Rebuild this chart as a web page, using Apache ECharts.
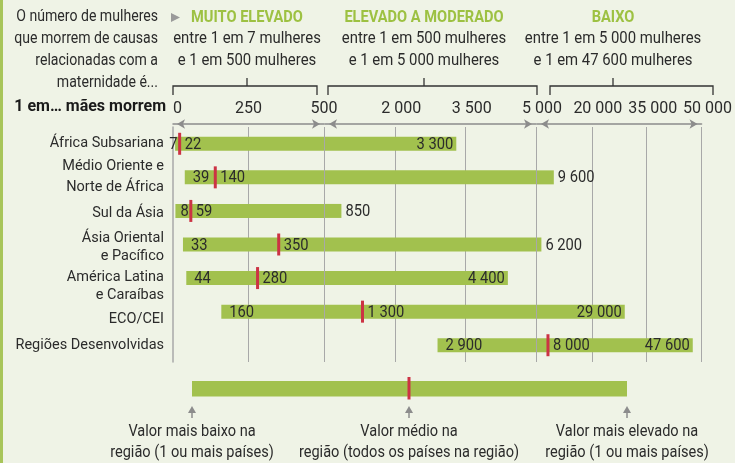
<!DOCTYPE html>
<html>
<head>
<meta charset="utf-8">
<script src="https://cdn.jsdelivr.net/npm/echarts@6/dist/echarts.min.js"></script>
<style>
  html, body { margin: 0; padding: 0; background: #eff3e6; }
  #grafico { width: 735px; height: 463px; }
</style>
</head>
<body>
<div id="grafico"></div>
<script>
// Dados (mortalidade materna: 1 em ... mães morrem)
var regioes = ['África Subsariana', 'Médio Oriente e\nNorte de África', 'Sul da Ásia',
  'Ásia Oriental\ne Pacífico', 'América Latina\ne Caraíbas', 'ECO/CEI', 'Regiões Desenvolvidas'];
var valorBaixo = [7, 39, 8, 33, 44, 160, 2900];
var valorMedio = [22, 140, 59, 350, 280, 1300, 8000];
var valorAlto = [3300, 9600, 850, 6200, 4400, 29000, 47600];

// os três troços do eixo: [min, max, intervalo]
var segmentos = [[0, 500, 250], [500, 5000, 1500], [5000, 50000, 15000]];
var titulos = ['MUITO ELEVADO', 'ELEVADO A MODERADO', 'BAIXO'];
var subtitulos = ['entre 1 em 7 mulheres\ne 1 em 500 mulheres',
  'entre 1 em 500 mulheres\ne 1 em 5 000 mulheres',
  'entre 1 em 5 000 mulheres\ne 1 em 47 600 mulheres'];

var fonte = "Roboto, 'Liberation Sans', sans-serif";
var verde = '#a2c14e';
var vermelho = '#cc3344';
var cinza = '#a8a8a8';
var texto = '#2b2b2b';

var grelhas = [
  { left: 173, width: 151, top: 127, height: 235 },
  { left: 325, width: 211, top: 127, height: 235 },
  { left: 537, width: 167, top: 127, height: 235 }
];

function fmt(v) {
  return String(v).replace(/\B(?=(\d{3})+(?!\d))/g, ' ');
}

// texto "estreito": a fonte original é condensada
function txt(t, x, y, align, extra, escala) {
  var s = { text: t, fill: texto, fontFamily: fonte, fontSize: 16, align: align, verticalAlign: 'middle' };
  for (var k in extra) s[k] = extra[k];
  return { type: 'text', x: x, y: y, scaleX: escala || 1, style: s, z2: 5 };
}

function criarSerie(i) {
  var seg = segmentos[i];
  var dados = [];
  regioes.forEach(function (nome, r) {
    var lo = Math.max(valorBaixo[r], seg[0]);
    var hi = Math.min(valorAlto[r], seg[1]);
    if (lo < hi) dados.push([r, lo - seg[0], hi - seg[0]]);
  });
  return {
    type: 'custom',
    xAxisIndex: i,
    yAxisIndex: i,
    clip: false,
    data: dados,
    encode: { x: [1, 2], y: 0 },
    renderItem: function (params, api) {
      var r = api.value(0);
      var a = api.coord([api.value(1), r]);
      var b = api.coord([api.value(2), r]);
      var y = a[1];
      var filhos = [{ type: 'rect', shape: { x: a[0], y: y - 7, width: b[0] - a[0], height: 14 }, style: { fill: verde } }];

      var xm = null;
      var med = valorMedio[r];
      if (med >= seg[0] && med < seg[1]) {
        xm = api.coord([med - seg[0], r])[0];
        filhos.push({ type: 'rect', shape: { x: xm - 1.5, y: y - 11, width: 3, height: 22 }, style: { fill: vermelho }, z2: 4 });
        filhos.push(txt(fmt(med), xm + 5, y + 1, 'left', {}, 0.92));
      }
      var low = valorBaixo[r];
      if (low >= seg[0] && low < seg[1]) {
        // se a marca da média estiver muito perto, o valor fica à esquerda dela
        if (xm !== null && xm - a[0] < 20) filhos.push(txt(fmt(low), xm - 2, y + 1, 'right', {}, 0.92));
        else filhos.push(txt(fmt(low), a[0] + 8, y + 1, 'left', {}, 0.92));
      }
      var high = valorAlto[r];
      if (high > seg[0] && high <= seg[1]) {
        if (b[0] - a[0] > 40) filhos.push(txt(fmt(high), b[0] - 3, y + 1, 'right', {}, 0.92));
        else filhos.push(txt(fmt(high), b[0] + 4, y + 1, 'left', {}, 0.92));
      }
      return { type: 'group', children: filhos };
    }
  };
}

var eixosX = segmentos.map(function (seg, i) {
  return {
    type: 'value',
    gridIndex: i,
    position: 'top',
    offset: 3,
    min: 0,
    max: seg[1] - seg[0],
    interval: seg[2],
    axisLine: {
      show: true, symbol: ['arrow', 'arrow'], symbolSize: [7, 8], symbolOffset: [4, -4],
      lineStyle: { color: '#8c8c8c', width: 1.5 }
    },
    axisTick: { show: false },
    splitLine: { show: true, showMinLine: false, lineStyle: { color: cinza, width: 1 } },
    axisLabel: {
      show: true, margin: 7, color: texto, fontFamily: fonte, fontSize: 16,
      showMinLabel: i === 0, alignMinLabel: 'left',
      padding: i === 0 ? 0 : [0, 0, 0, 12],
      formatter: function (v) { return fmt(v + seg[0]); }
    }
  };
});

// os rótulos de algumas regiões estão um pouco abaixo da barra no original
var deslocRotulo = { 2: 'd2', 3: 'd4', 4: 'd10', 5: 'd8' };
function rico(pad) {
  var s = { color: texto, fontFamily: fonte, fontSize: 14.5 };
  if (pad) s.padding = [pad, 0, 0, 0];
  else s.lineHeight = 21;
  return s;
}

var eixosY = segmentos.map(function (seg, i) {
  return {
    type: 'category',
    gridIndex: i,
    data: regioes,
    inverse: true,
    axisLine: { show: i === 0, lineStyle: { color: cinza, width: 1.5 } },
    axisTick: { show: false },
    axisLabel: {
      show: i === 0, margin: 9, color: texto, fontFamily: fonte, fontSize: 14.5,
      formatter: function (v, idx) {
        var d = deslocRotulo[idx];
        return v.split('\n').map(function (l, j) {
          return '{' + (j === 0 && d ? d : 'n') + '|' + l + '}';
        }).join('\n');
      },
      rich: { n: rico(0), d2: rico(4), d4: rico(8), d8: rico(16), d10: rico(20) }
    }
  };
});

// decoração: cabeçalhos, chavetas, legenda
var graficos = [
  { type: 'rect', shape: { x: 0, y: 0, width: 3, height: 463 }, style: { fill: '#a8c55a' } },
  txt('O número de mulheres\nque morrem de causas\nrelacionadas com a\nmaternidade é...', 158, 50, 'right', { lineHeight: 21.8 }, 0.88),
  txt('1 em… mães morrem', 166, 107, 'right', { fontWeight: 'bold', fill: '#1a1a1a' }),
  { type: 'polygon', shape: { points: [[171, 13], [180, 17.5], [171, 22]] }, style: { fill: '#9a9a9a' } }
];
var centros = [247, 424, 613];
var chavetas = [[173, 317], [328, 537], [550, 713]];
centros.forEach(function (c, i) {
  graficos.push(txt(titulos[i], c, 18, 'center', { fontSize: 17, fontWeight: 'bold', fill: '#9dc142' }, 0.86));
  graficos.push(txt(subtitulos[i], c, 50, 'center', { lineHeight: 22 }, 0.93));
  var k = chavetas[i];
  graficos.push({ type: 'polyline', shape: { points: [[k[0], 95], [k[0], 86], [k[1], 86], [k[1], 95]] }, style: { stroke: '#333', lineWidth: 1.3, fill: null } });
  graficos.push({ type: 'line', shape: { x1: c, y1: 86, x2: c, y2: 78 }, style: { stroke: '#333', lineWidth: 1.3 } });
});
// legenda
graficos.push({ type: 'rect', shape: { x: 192, y: 381, width: 435, height: 15.5 }, style: { fill: verde } });
graficos.push({ type: 'rect', shape: { x: 407.5, y: 377, width: 3, height: 22.5 }, style: { fill: vermelho } });
var legendaX = [192, 409, 627];
var legendaTxt = ['Valor mais baixo na\nregião (1 ou mais países)',
  'Valor médio na\nregião (todos os países na região)',
  'Valor mais elevado na\nregião (1 ou mais países)'];
legendaX.forEach(function (x, i) {
  graficos.push({ type: 'polygon', shape: { points: [[x - 4, 413], [x, 406], [x + 4, 413]] }, style: { fill: '#8c8c8c' } });
  graficos.push({ type: 'line', shape: { x1: x, y1: 412, x2: x, y2: 418 }, style: { stroke: '#8c8c8c', lineWidth: 1.5 } });
  graficos.push(txt(legendaTxt[i], x, 442.5, 'center', { lineHeight: 21.6 }, 0.91));
});

var myChart = echarts.init(document.getElementById('grafico'));
var option = {
  backgroundColor: '#eff3e6',
  animation: false,
  grid: grelhas,
  xAxis: eixosX,
  yAxis: eixosY,
  series: [criarSerie(0), criarSerie(1), criarSerie(2)],
  graphic: graficos
};
myChart.setOption(option);
</script>
</body>
</html>
